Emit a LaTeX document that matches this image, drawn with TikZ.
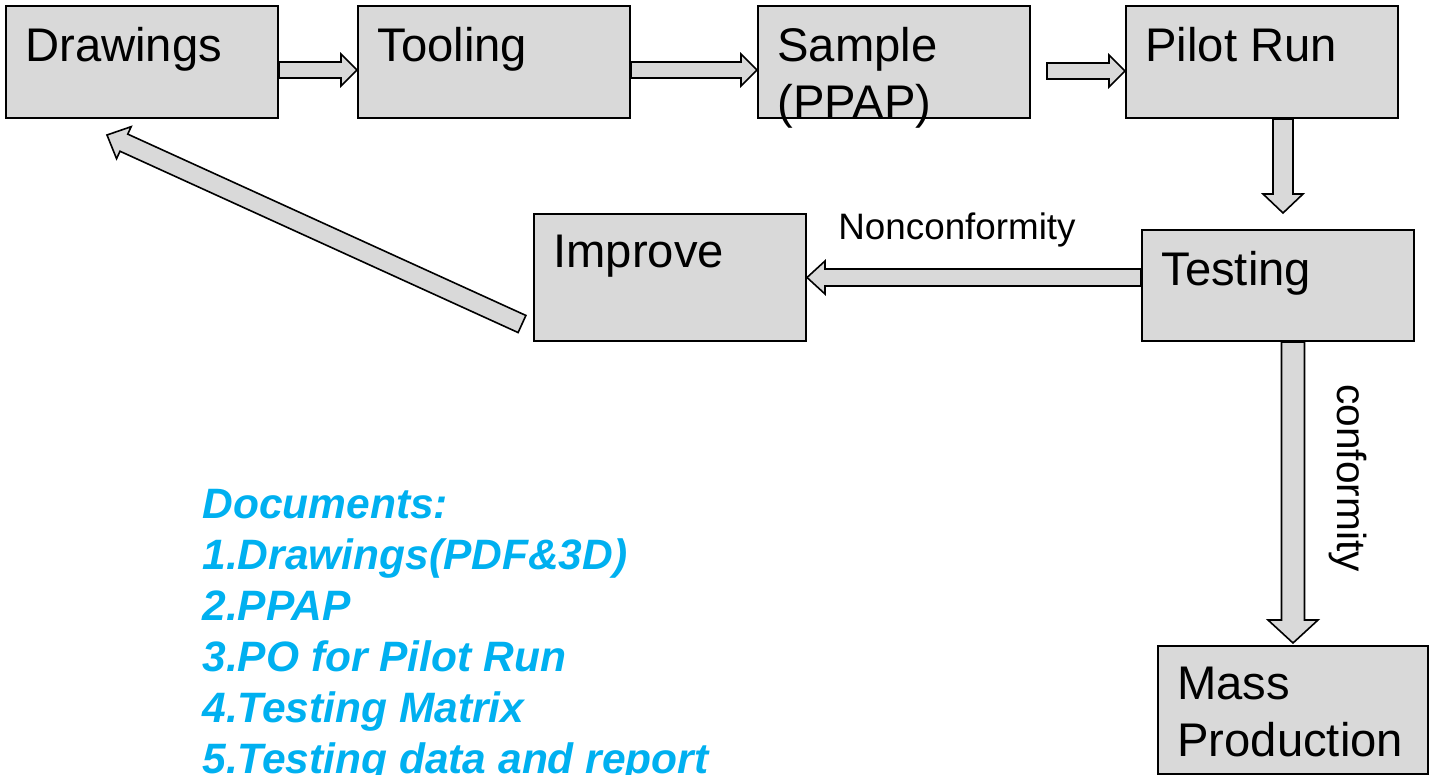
\documentclass[tikz,border=0pt]{standalone}
\usepackage{fontspec}
\setmainfont{Liberation Sans}
\usetikzlibrary{calc,positioning}
\definecolor{boxgray}{HTML}{D9D9D9}
\definecolor{docblue}{HTML}{00B0F0}
\tikzset{
  procbox/.style={draw, fill=boxgray, line width=1pt, inner sep=0pt, anchor=north west,
    minimum width=136pt, minimum height=56pt},
  boxtext/.style={anchor=north west, xshift=10pt, yshift=-11pt, inner sep=0pt, align=left,
    font=\fontsize{23.6}{28.5}\selectfont},
  flowlabel/.style={inner sep=0pt},
  doclist/.style={anchor=north west, inner sep=0pt, align=left, text=docblue,
    font=\fontsize{21.25}{25.5}\selectfont\bfseries\itshape},
  % #1 shaft half width, #2 head half width, #3 head length
  blockarrow/.style n args={3}{draw, fill=boxgray, line width=0.8pt, line join=miter,
    to path={let \p1=(\tikztostart), \p2=(\tikztotarget),
      \n1={atan2(\y2-\y1,\x2-\x1)}, \n2={veclen(\x2-\x1,\y2-\y1)} in
      ($(\p1)+(\n1+90:#1)$)
      -- ($(\p1)+(\n1:\n2-#3)+(\n1+90:#1)$)
      -- ($(\p1)+(\n1:\n2-#3)+(\n1+90:#2)$)
      -- (\p2)
      -- ($(\p1)+(\n1:\n2-#3)+(\n1-90:#2)$)
      -- ($(\p1)+(\n1:\n2-#3)+(\n1-90:#1)$)
      -- ($(\p1)+(\n1-90:#1)$) -- cycle}}
}
\begin{document}
\begin{tikzpicture}[x=0.5pt, y=-0.5pt]
\useasboundingbox (0,0) rectangle (1429,775);

% Top row
\node[procbox, label={[boxtext]north west:Drawings}] (drw) at (5,5) {};
\node[procbox, label={[boxtext]north west:Tooling}] (tool) at (357,5) {};
\node[procbox, label={[boxtext]north west:Sample\\(PPAP)}] (smpl) at (757,5) {};
\node[procbox, label={[boxtext]north west:Pilot Run}] (pilot) at (1125,5) {};

% Middle row
\node[procbox, minimum height=63.5pt, label={[boxtext]north west:Improve}] (impr) at (533,213) {};
\node[procbox, minimum height=55.5pt, label={[boxtext]north west:Testing}] (test) at (1141,229) {};

% Output
\node[procbox, minimum width=135pt, minimum height=64pt,
  label={[boxtext]north west:Mass\\Production}] (mass) at (1157,645) {};

% Arrows
\draw[blockarrow={4pt}{8pt}{8pt}] ([yshift=-4pt]drw.east) to ([yshift=-4pt]tool.west);
\draw[blockarrow={4pt}{8pt}{8pt}] ([yshift=-4pt]tool.east) to ([yshift=-4pt]smpl.west);
\draw[blockarrow={4pt}{8pt}{8pt}] ([xshift=8pt,yshift=-4.5pt]smpl.east) to ([yshift=-4.5pt]pilot.west);
\draw[blockarrow={5pt}{10pt}{9.5pt}] ([xshift=10.5pt]pilot.south) to ($(test.north)+(2.5pt,8pt)$);
\draw[blockarrow={4.25pt}{8.25pt}{9pt}] (impr.east -| test.west) to (impr.east);
\draw[blockarrow={5.75pt}{12.5pt}{11.5pt}] (test.south -| mass.north) to ([yshift=1pt]mass.north);
\draw[blockarrow={4.7pt}{8.8pt}{9.25pt}] ($(impr.south west)+(-5.5pt,9pt)$) to ($(drw.south west)+(51pt,-8pt)$);

% Arrow labels
\node[flowlabel, anchor=base west, font=\fontsize{18.4}{22}\selectfont] (nonc) at (838,240) {Nonconformity};
\node[flowlabel, anchor=base west, rotate=-90, font=\fontsize{20.3}{24}\selectfont] (conf) at (1337,384) {conformity};

% Documents
\node[doclist] (docs) at (202,489) {Documents:\\1.Drawings(PDF\&3D)\\2.PPAP\\3.PO for Pilot Run\\4.Testing Matrix\\5.Testing data and report};
\end{tikzpicture}
\end{document}
